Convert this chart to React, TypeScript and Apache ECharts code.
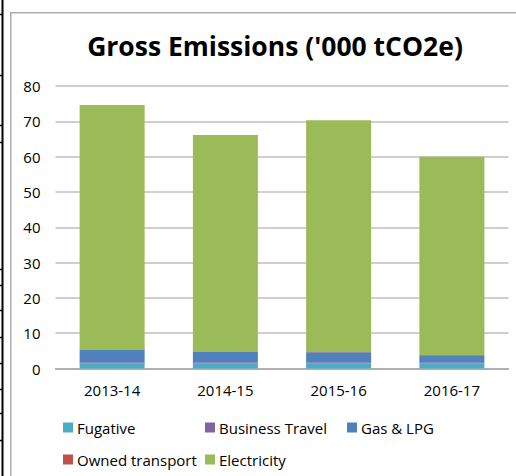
import React, { useEffect, useRef } from "react";
import * as echarts from "echarts";

const categories = ["2013-14", "2014-15", "2015-16", "2016-17"];
const fugative = [1.5, 1.5, 1.4, 1.4];
const businessTravel = [0.3, 0.3, 0.4, 0.35];
const gasLpg = [3.6, 3.0, 2.8, 2.0];
const ownedTransport = [0.05, 0.1, 0.05, 0.05];
const electricity = [69.15, 61.2, 65.65, 56.15];
const yTicks = { min: 0, max: 80, interval: 10 };
const seriesNames = ["Fugative", "Business Travel", "Gas & LPG", "Owned transport", "Electricity"];
const seriesColors = ["#4BACC6", "#8064A2", "#4F81BD", "#C0504D", "#9BBB59"];
const edgeTicks = [14, 75, 125, 142, 269, 285, 310, 337, 363, 389, 413, 440];

const FONT = "'Open Sans', sans-serif";

export default function App() {
  const ref = useRef<HTMLDivElement>(null);
  useEffect(() => {
    if (!ref.current) return;
    const chart = echarts.init(ref.current, null, { renderer: "svg" });
    const values = [fugative, businessTravel, gasLpg, ownedTransport, electricity];
    const legendPos = [
      { left: 63, top: 420 },
      { left: 205, top: 420 },
      { left: 347, top: 420 },
      { left: 63, top: 452 },
      { left: 205, top: 452 },
    ];
    chart.setOption({
      animation: false,
      backgroundColor: "#ffffff",
      title: {
        text: "Gross Emissions ('000 tCO2e)",
        left: 270,
        textAlign: "center",
        top: 27,
        textStyle: { fontFamily: FONT, fontSize: 26.5, fontWeight: "bold", color: "#000000" },
      },
      legend: seriesNames.map((n, i) => ({
        data: [n],
        left: legendPos[i].left,
        top: legendPos[i].top,
        itemWidth: 10,
        itemHeight: 10,
        itemGap: 4,
        icon: "rect",
        padding: 0,
        textStyle: { fontFamily: FONT, fontSize: 15, color: "#000000", padding: [0, 0, 0, -1] },
      })),
      grid: { left: 55.5, right: 7.5, top: 86, bottom: 107.5 },
      xAxis: {
        type: "category",
        data: categories,
        axisLine: { lineStyle: { color: "#A6A6A6", width: 1.5 } },
        axisTick: { show: false },
        axisLabel: { fontFamily: FONT, fontSize: 15, color: "#000000", margin: 14 },
      },
      yAxis: {
        type: "value",
        min: yTicks.min,
        max: yTicks.max,
        interval: yTicks.interval,
        axisLine: { show: false },
        axisTick: { show: false },
        axisLabel: { fontFamily: FONT, fontSize: 15, color: "#000000", margin: 15 },
        splitLine: { lineStyle: { color: "#BFBFBF", width: 1.5 } },
      },
      series: seriesNames.map((n, i) => ({
        name: n,
        type: "bar",
        stack: "total",
        barWidth: 65,
        data: values[i],
        itemStyle: { color: seriesColors[i] },
      })),
      graphic: [
        {
          type: "rect",
          shape: { x: 10.75, y: 12.75, width: 520, height: 480 },
          style: { fill: "none", stroke: "#ADADAD", lineWidth: 1.5 },
          silent: true,
        },
        {
          type: "line",
          shape: { x1: 2.5, y1: 0, x2: 2.5, y2: 476 },
          style: { stroke: "#000000", lineWidth: 2 },
          silent: true,
        },
        ...edgeTicks.map((y) => ({
          type: "line",
          shape: { x1: 0, y1: y + 0.5, x2: 3, y2: y + 0.5 },
          style: { stroke: "#000000", lineWidth: 1.5 },
          silent: true,
        })),
      ],
    });
    return () => chart.dispose();
  }, []);
  return (
    <div
      ref={ref}
      style={{ position: "fixed", left: 0, top: 0, width: 516, height: 476 }}
    />
  );
}
